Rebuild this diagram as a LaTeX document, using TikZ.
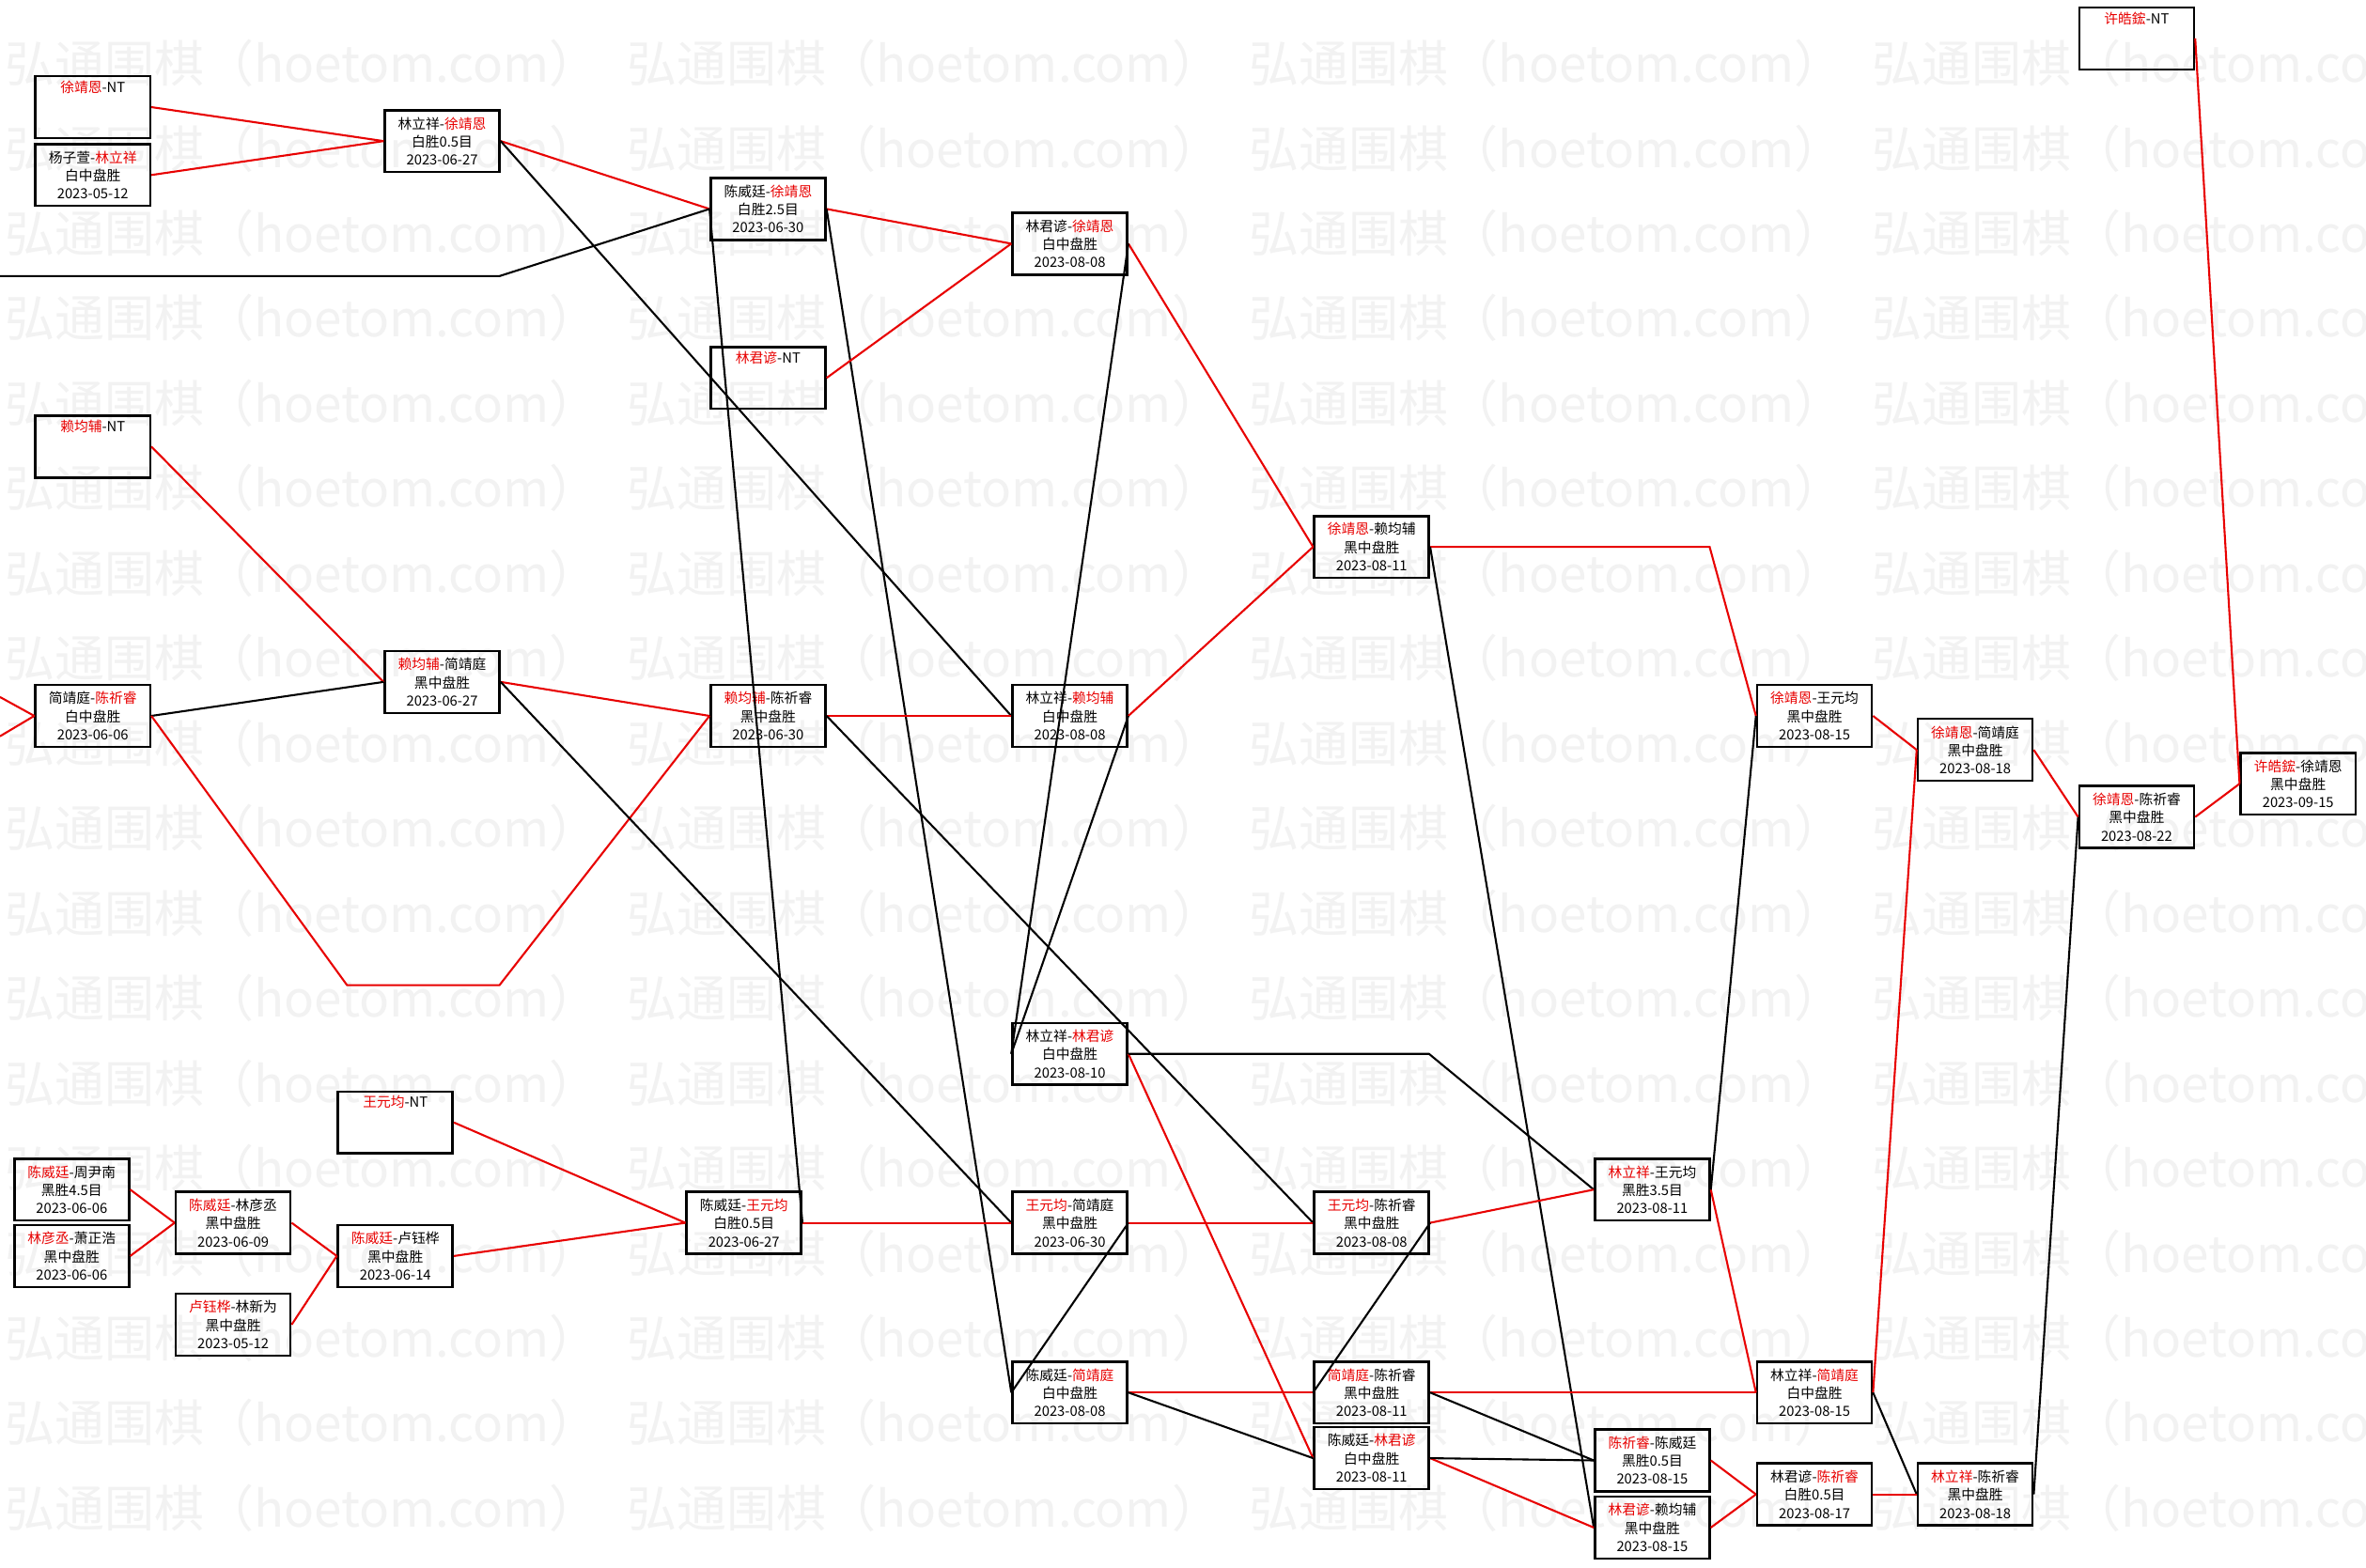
\documentclass[tikz,border=0pt]{standalone}
\usepackage{fontspec}
\newfontfamily\cjk{Noto Sans CJK SC}
\definecolor{lred}{RGB}{232,0,0}
\definecolor{wmgray}{RGB}{242,242,242}
\newcommand{\redname}[1]{\textcolor{lred}{#1}}
\begin{document}
\begin{tikzpicture}[x=1pt,y=-1pt,
  gbox/.style={draw=black, line width=1.6pt, minimum width=76pt, minimum height=41pt,
    inner sep=0pt, align=center, font=\cjk\fontsize{9.2}{12}\selectfont},
  rl/.style={draw=lred, line width=1.3pt},
  kl/.style={draw=black, line width=1.3pt},
  wm/.style={anchor=west, text=wmgray, inner sep=0pt, font=\cjk\fontsize{33}{33}\selectfont}]
\useasboundingbox (0,0) rectangle (1568,1039);
\clip (0,0) rectangle (1568,1039);
\fill[white] (0,0) rectangle (1568,1039);
% watermark
\foreach \i in {0,...,17} {
  \foreach \j in {0,...,3} {
    \node[wm] (wm-\i-\j) at ({3+412.5*\j},{42+56.33*\i}) {弘通围棋（hoetom.com）};
  }
}
% nodes
\node[gbox] (nt1) at (61.5,71) {\redname{徐靖恩}-NT\\\strut\\\strut};
\node[gbox] (g1) at (61.5,116) {杨子萱-\redname{林立祥}\\白中盘胜\\2023-05-12};
\node[gbox] (g2) at (293,93.5) {林立祥-\redname{徐靖恩}\\白胜0.5目\\2023-06-27};
\node[gbox] (g3) at (509,138.5) {陈威廷-\redname{徐靖恩}\\白胜2.5目\\2023-06-30};
\node[gbox] (nt2) at (509,250.5) {\redname{林君谚}-NT\\\strut\\\strut};
\node[gbox] (g4) at (709,161.5) {林君谚-\redname{徐靖恩}\\白中盘胜\\2023-08-08};
\node[gbox] (nt3) at (61.5,296) {\redname{赖均辅}-NT\\\strut\\\strut};
\node[gbox] (g5) at (61.5,474.5) {简靖庭-\redname{陈祈睿}\\白中盘胜\\2023-06-06};
\node[gbox] (g6) at (293,452) {\redname{赖均辅}-简靖庭\\黑中盘胜\\2023-06-27};
\node[gbox] (g7) at (509,474.5) {\redname{赖均辅}-陈祈睿\\黑中盘胜\\2023-06-30};
\node[gbox] (g8) at (709,474.5) {林立祥-\redname{赖均辅}\\白中盘胜\\2023-08-08};
\node[gbox] (g9) at (909,362.5) {\redname{徐靖恩}-赖均辅\\黑中盘胜\\2023-08-11};
\node[gbox] (g10) at (709,698.5) {林立祥-\redname{林君谚}\\白中盘胜\\2023-08-10};
\node[gbox] (nt4) at (262,744) {\redname{王元均}-NT\\\strut\\\strut};
\node[gbox] (g11) at (47.5,788.5) {\redname{陈威廷}-周尹南\\黑胜4.5目\\2023-06-06};
\node[gbox] (g12) at (47.5,832.5) {\redname{林彦丞}-萧正浩\\黑中盘胜\\2023-06-06};
\node[gbox] (g13) at (154.5,810.5) {\redname{陈威廷}-林彦丞\\黑中盘胜\\2023-06-09};
\node[gbox] (g14) at (154.5,878) {\redname{卢钰桦}-林新为\\黑中盘胜\\2023-05-12};
\node[gbox] (g15) at (262,832.5) {\redname{陈威廷}-卢钰桦\\黑中盘胜\\2023-06-14};
\node[gbox] (g16) at (493,810.5) {陈威廷-\redname{王元均}\\白胜0.5目\\2023-06-27};
\node[gbox] (g17) at (709,810.5) {\redname{王元均}-简靖庭\\黑中盘胜\\2023-06-30};
\node[gbox] (g18) at (709,923) {陈威廷-\redname{简靖庭}\\白中盘胜\\2023-08-08};
\node[gbox] (g19) at (909,810.5) {\redname{王元均}-陈祈睿\\黑中盘胜\\2023-08-08};
\node[gbox] (g20) at (909,923) {\redname{简靖庭}-陈祈睿\\黑中盘胜\\2023-08-11};
\node[gbox] (g21) at (909,966.5) {陈威廷-\redname{林君谚}\\白中盘胜\\2023-08-11};
\node[gbox] (g22) at (1095,788.5) {\redname{林立祥}-王元均\\黑胜3.5目\\2023-08-11};
\node[gbox] (g23) at (1095,968) {\redname{陈祈睿}-陈威廷\\黑胜0.5目\\2023-08-15};
\node[gbox] (g24) at (1095,1012.5) {\redname{林君谚}-赖均辅\\黑中盘胜\\2023-08-15};
\node[gbox] (g25) at (1202.5,474.5) {\redname{徐靖恩}-王元均\\黑中盘胜\\2023-08-15};
\node[gbox] (g26) at (1202.5,923) {林立祥-\redname{简靖庭}\\白中盘胜\\2023-08-15};
\node[gbox] (g27) at (1202.5,990.5) {林君谚-\redname{陈祈睿}\\白胜0.5目\\2023-08-17};
\node[gbox] (g28) at (1309,497) {\redname{徐靖恩}-简靖庭\\黑中盘胜\\2023-08-18};
\node[gbox] (g29) at (1309,990.5) {\redname{林立祥}-陈祈睿\\黑中盘胜\\2023-08-18};
\node[gbox] (g30) at (1416,541.5) {\redname{徐靖恩}-陈祈睿\\黑中盘胜\\2023-08-22};
\node[gbox] (nt5) at (1416,25.5) {\redname{许皓鋐}-NT\\\strut\\\strut};
\node[gbox] (g31) at (1523,519.5) {\redname{许皓鋐}-徐靖恩\\黑中盘胜\\2023-09-15};
% free ends
\coordinate (offA) at (0,183);
\coordinate (offB) at (0,462);
\coordinate (offC) at (0,488);
% connectors
\draw[rl] (nt1.east) -- (g2.west);
\draw[rl] (g1.east) -- (g2.west);
\draw[rl] (g2.east) -- (g3.west);
\draw[kl] (g2.east) -- (g8.west);
\draw[kl] (offA) -- (331,183) -- (g3.west);
\draw[rl] (g3.east) -- (g4.west);
\draw[kl] (g3.east) -- (g18.west);
\draw[rl] (nt2.east) -- (g4.west);
\draw[rl] (g4.east) -- (g9.west);
\draw[kl] (g4.east) -- (g10.west);
\draw[rl] (nt3.east) -- (g6.west);
\draw[rl] (offB) -- (g5.west);
\draw[rl] (offC) -- (g5.west);
\draw[kl] (g5.east) -- (g6.west);
\draw[rl] (g5.east) -- (230,653) -- (331,653) -- (g7.west);
\draw[rl] (g6.east) -- (g7.west);
\draw[kl] (g6.east) -- (g17.west);
\draw[rl] (g7.east) -- (g8.west);
\draw[kl] (g7.east) -- (g19.west);
\draw[rl] (g8.east) -- (g9.west);
\draw[kl] (g8.east) -- (g10.west);
\draw[rl] (g9.east) -- (1133,362.5) -- (g25.west);
\draw[kl] (g9.east) -- (g24.west);
\draw[rl] (g10.east) -- (g21.west);
\draw[kl] (g10.east) -- (947,698.5) -- (g22.west);
\draw[rl] (g11.east) -- (g13.west);
\draw[rl] (g12.east) -- (g13.west);
\draw[rl] (g13.east) -- (g15.west);
\draw[rl] (g14.east) -- (g15.west);
\draw[rl] (g15.east) -- (g16.west);
\draw[rl] (nt4.east) -- (g16.west);
\draw[rl] (g16.east) -- (g17.west);
\draw[kl] (g16.east) -- (g3.west);
\draw[rl] (g17.east) -- (g19.west);
\draw[kl] (g17.east) -- (g18.west);
\draw[rl] (g18.east) -- (g20.west);
\draw[kl] (g18.east) -- (g21.west);
\draw[rl] (g19.east) -- (g22.west);
\draw[kl] (g19.east) -- (g20.west);
\draw[rl] (g20.east) -- (g26.west);
\draw[kl] (g20.east) -- (g23.west);
\draw[rl] (g21.east) -- (g24.west);
\draw[kl] (g21.east) -- (g23.west);
\draw[rl] (g22.east) -- (g26.west);
\draw[kl] (g22.east) -- (g25.west);
\draw[rl] (g23.east) -- (g27.west);
\draw[rl] (g24.east) -- (g27.west);
\draw[rl] (g25.east) -- (g28.west);
\draw[rl] (g26.east) -- (g28.west);
\draw[kl] (g26.east) -- (g29.west);
\draw[rl] (g27.east) -- (g29.west);
\draw[rl] (g28.east) -- (g30.west);
\draw[kl] (g29.east) -- (g30.west);
\draw[rl] (g30.east) -- (g31.west);
\draw[rl] (nt5.east) -- (g31.west);
\end{tikzpicture}
\end{document}
